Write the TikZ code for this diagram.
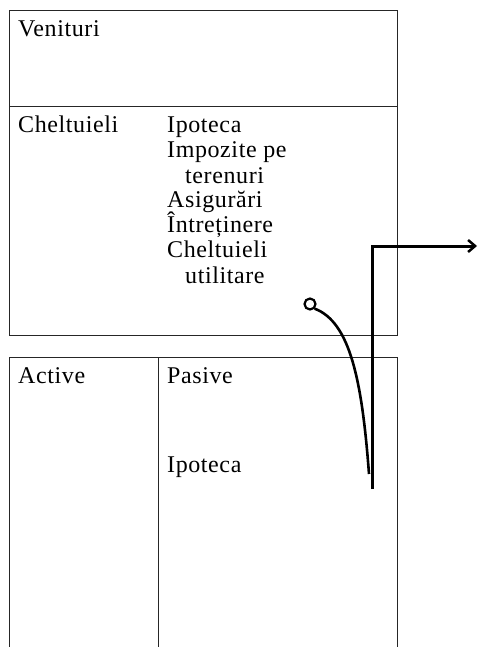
\documentclass[tikz,border=0pt]{standalone}
\usepackage{fontspec}
\setmainfont{Liberation Serif}[LetterSpace=2.5]
\usetikzlibrary{arrows.meta}
\begin{document}
\begin{tikzpicture}[x=1pt,y=-1pt,
  frame/.style={draw=black!85,line width=1pt},
  lbl/.style={anchor=base west,inner sep=0pt,font=\fontsize{24}{25}\selectfont},
  thick line/.style={draw=black,line width=3pt},
  curve line/.style={draw=black,line width=2.6pt}]
\useasboundingbox (0,0) rectangle (478,647);
% frames
\draw[frame] (9.5,11) rectangle (397,335);
\draw[frame] (9.5,107) -- (397,107);
\draw[frame] (9.5,647) -- (9.5,357) -- (397,357) -- (397,647);
\draw[frame] (158,357) -- (158,647);
% texts
\node[lbl] (ven) at (18,37) {Venituri};
\node[lbl] (chel) at (18,133) {Cheltuieli};
\node[lbl] (ip1) at (167,133) {Ipoteca};
\node[lbl] (imp) at (167,158) {Impozite pe};
\node[lbl] (ter) at (185,183) {terenuri};
\node[lbl] (asi) at (167,207) {Asigurări};
\node[lbl] (intr) at (167,232) {Întreținere};
\node[lbl] (chu) at (167,257) {Cheltuieli};
\node[lbl] (uti) at (185,283) {utilitare};
\node[lbl] (act) at (18,383) {Active};
\node[lbl] (pas) at (167,383) {Pasive};
\node[lbl] (ip2) at (167,472) {Ipoteca};
% connectors
\coordinate (vb) at (372,489);
\coordinate (vt) at (372,246);
\coordinate (tip) at (477,246);
\draw[thick line,-{Straight Barb[length=7pt,width=12pt,line width=2.5pt]}] (vb) -- (vt) -- (tip);
\node[draw=black,line width=2.2pt,circle,minimum size=11pt,inner sep=0pt] (dot) at (310,304) {};
\coordinate (cend) at (369,474);
\draw[curve line] (dot.south east) .. controls (350,322) and (362,380) .. (cend);
\end{tikzpicture}
\end{document}
